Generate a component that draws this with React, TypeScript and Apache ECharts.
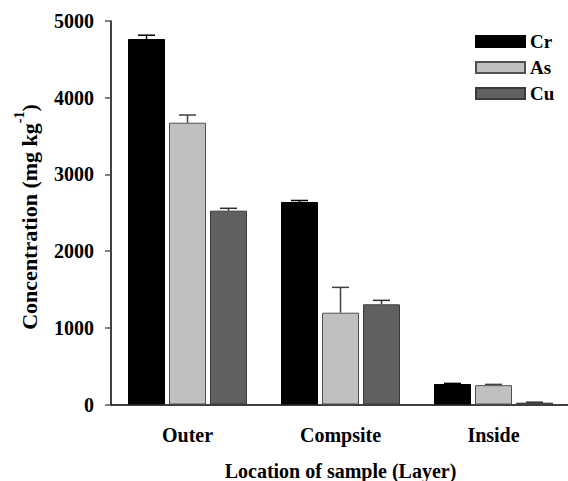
import React, { useEffect, useRef } from "react";
import * as echarts from "echarts";

const categories = ["Outer", "Compsite", "Inside"];
const seriesNames = ["Cr", "As", "Cu"];
const crValues = [4765, 2640, 267];
const asValues = [3674, 1197, 252];
const cuValues = [2527, 1306, 24];
const crErrors = [50, 20, 8];
const asErrors = [100, 330, 10];
const cuErrors = [31, 52, 6];
const yTicks = { min: 0, max: 5000, interval: 1000 };

const FONT = "Liberation Serif";
const BAR_W = 37;
const BAR_GAP = 4;

export default function App() {
  const ref = useRef<HTMLDivElement>(null);
  useEffect(() => {
    if (!ref.current) return;
    const chart = echarts.init(ref.current, undefined, { renderer: "svg" });
    const values = [crValues, asValues, cuValues];
    const errors = [crErrors, asErrors, cuErrors];
    const fills = ["#000000", "#c0c0c0", "#606060"];
    const borders = ["#000000", "#505050", "#3a3a3a"];
    const errColors = ["#000000", "#404040", "#303030"];

    const bars = seriesNames.map((name, i) => ({
      name,
      type: "bar",
      data: values[i],
      barWidth: BAR_W,
      barGap: (BAR_GAP / BAR_W) * 100 + "%",
      itemStyle: { color: fills[i], borderColor: borders[i], borderWidth: 1 },
      z: 2,
    }));

    const errSeries = seriesNames.map((name, i) => ({
      type: "custom",
      name: name + " err",
      z: 5,
      data: values[i].map((v, k) => [k, v, v + errors[i][k]]),
      renderItem: (params: any, api: any) => {
        const offset = (i - 1) * (BAR_W + BAR_GAP);
        const p0 = api.coord([api.value(0), api.value(1)]);
        const p1 = api.coord([api.value(0), api.value(2)]);
        const x = p0[0] + offset;
        const hw = 8.5;
        return {
          type: "group",
          children: [
            {
              type: "line",
              shape: { x1: x, y1: p0[1], x2: x, y2: p1[1] },
              style: { stroke: errColors[i], lineWidth: 1.5 },
            },
            {
              type: "line",
              shape: { x1: x - hw, y1: p1[1], x2: x + hw, y2: p1[1] },
              style: { stroke: errColors[i], lineWidth: 1.5 },
            },
          ],
        };
      },
    }));

    chart.setOption({
      animation: false,
      backgroundColor: "#ffffff",
      grid: { left: 111, top: 21, width: 459, height: 383.5, outerBoundsMode: "none", containLabel: false },
      legend: {
        data: seriesNames.map((n) => ({ name: n, icon: "rect" })),
        orient: "vertical",
        left: 475,
        top: 32,
        padding: 0,
        itemWidth: 49,
        itemHeight: 11,
        itemGap: 7,
        textStyle: { fontFamily: FONT, fontWeight: "bold", fontSize: 19, color: "#000" },
      },
      xAxis: {
        type: "category",
        data: categories,
        axisLine: { lineStyle: { color: "#000", width: 1.5 } },
        axisTick: { alignWithLabel: true, length: 6, lineStyle: { color: "#777", width: 1.5 } },
        axisLabel: { fontFamily: FONT, fontWeight: "bold", fontSize: 20, color: "#000", margin: 20 },
        name: "Location of sample (Layer)",
        nameLocation: "middle",
        nameGap: 56,
        nameTextStyle: { fontFamily: FONT, fontWeight: "bold", fontSize: 20, color: "#000" },
      },
      yAxis: {
        type: "value",
        min: yTicks.min,
        max: yTicks.max,
        interval: yTicks.interval,
        splitLine: { show: false },
        axisLine: { show: true, lineStyle: { color: "#000", width: 1.5 } },
        axisTick: { show: true, length: 6, lineStyle: { color: "#555", width: 1.5 } },
        axisLabel: {
          fontFamily: FONT,
          fontWeight: "bold",
          fontSize: 20,
          color: "#000",
          margin: 17,
          formatter: (v: number) => String(v),
        },
      },
      graphic: [
        {
          type: "text",
          x: 26,
          y: 217,
          rotation: Math.PI / 2,
          style: {
            text: "{a|Concentration (mg kg}{s|-1}{a|)}",
            align: "center",
            verticalAlign: "middle",
            fontFamily: FONT,
            fontWeight: "bold",
            rich: {
              a: { fontFamily: FONT, fontWeight: "bold", fontSize: 22, lineHeight: 28, verticalAlign: "bottom", fill: "#000" },
              s: { fontFamily: FONT, fontWeight: "bold", fontSize: 14, lineHeight: 14, verticalAlign: "top", fill: "#000" },
            },
          },
        },
      ],
      series: [...bars, ...errSeries],
    });
    return () => chart.dispose();
  }, []);
  return (
    <div
      ref={ref}
      style={{ position: "absolute", left: 0, top: 0, width: 568, height: 481 }}
    />
  );
}
